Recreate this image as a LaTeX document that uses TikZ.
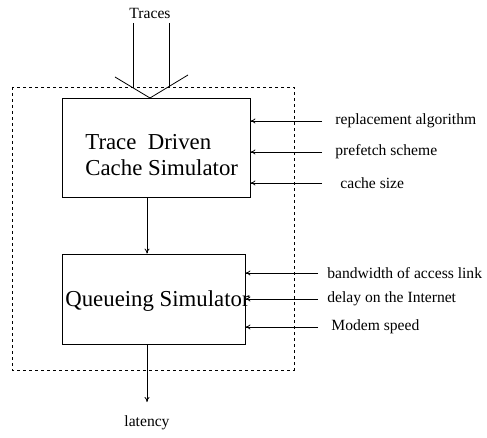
\documentclass[tikz,border=0pt]{standalone}
\usepackage{fontspec}
\setmainfont{Liberation Serif}
\usetikzlibrary{arrows.meta}
\begin{document}
\begin{tikzpicture}[x=1pt,y=-1pt,line width=0.8pt,
  box/.style={draw,rectangle,inner sep=0pt},
  small/.style={font=\fontsize{15.6}{18}\selectfont,inner sep=0pt},
  big/.style={font=\fontsize{22.8}{26}\selectfont,inner sep=0pt},
  arr/.style={-{To[length=5pt,width=5pt]}},
  frame/.style={dashed,dash pattern=on 3pt off 3pt,line width=0.7pt}]
\useasboundingbox (0,0) rectangle (487,438);
% dashed frame
\draw[frame] (12,87) rectangle (294,370);
% boxes
\node[box,minimum width=188pt,minimum height=99pt] (cache) at (156,147.5) {};
\node[box,minimum width=183pt,minimum height=90pt] (queue) at (153.5,299) {};
\node[big,anchor=west] (ctext1) at (85,142) {Trace\ \ Driven};
\node[big,anchor=west] (ctext2) at (85,168) {Cache Simulator};
\node[big] (qtext) at (157.5,301) {Queueing Simulator};
% traces
\node[small] (traces) at (150,13) {Traces};
\coordinate (tip) at (150,98);
\coordinate (vl) at (115,77);
\coordinate (vr) at (188,75);
\coordinate (t1) at (133,23);
\coordinate (t2) at (169,23);
\draw (vl) -- (tip) -- (vr);
\draw (t1) -- (133,88);
\draw (t2) -- (169,87.5);
% between
\draw[arr] ([xshift=-9pt]cache.south) -- ([xshift=-6.5pt]queue.north);
\draw[arr] ([xshift=-6.5pt]queue.south) -- (147,402) coordinate (out);
\node[small] (lat) at (147,423) {latency};
% cache inputs
\node[small,anchor=west] (l1) at (335,121) {replacement algorithm};
\node[small,anchor=west] (l2) at (335,152) {prefetch scheme};
\node[small,anchor=west] (l3) at (340,183) {cache size};
\draw[arr] (322,121) coordinate (a1) -- (a1 -| cache.east);
\draw[arr] (322,152) coordinate (a2) -- (a2 -| cache.east);
\draw[arr] (322,183) coordinate (a3) -- (a3 -| cache.east);
% queue inputs
\node[small,anchor=west] (m1) at (327,273) {bandwidth of access link};
\node[small,anchor=west] (m2) at (327,299) {delay on the Internet};
\node[small,anchor=west] (m3) at (331,327) {Modem speed};
\draw[arr] (318,273) coordinate (b1) -- (b1 -| queue.east);
\draw[arr] (318,299) coordinate (b2) -- (b2 -| queue.east);
\draw[arr] (318,327) coordinate (b3) -- (b3 -| queue.east);
\end{tikzpicture}
\end{document}
